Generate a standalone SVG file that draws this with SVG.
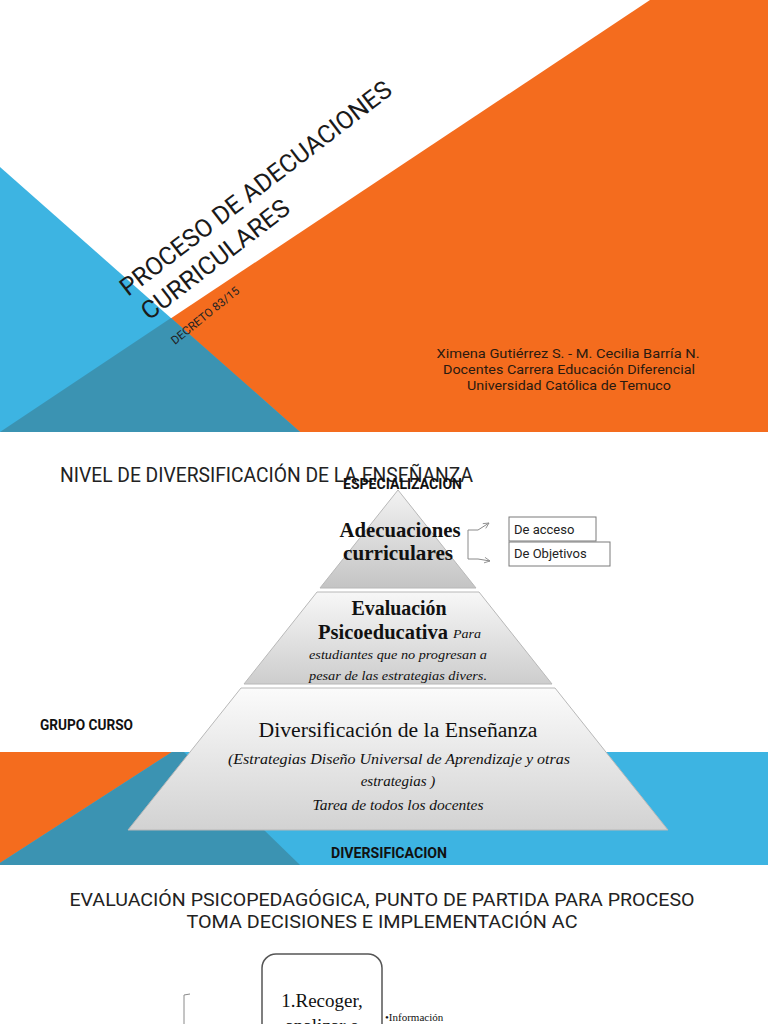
<svg xmlns="http://www.w3.org/2000/svg" width="768" height="1024" viewBox="0 0 768 1024">
<defs>
<style>
.sans{font-family:Roboto,"Liberation Sans",sans-serif}
.serif{font-family:"Liberation Serif","DejaVu Serif",serif}
.title{font-family:Roboto,"Liberation Sans",sans-serif;font-weight:400;fill:#1a1a1a}
.lbl{font-family:Roboto,"Liberation Sans",sans-serif;font-weight:700;font-size:14px;fill:#111}
.pt{font-family:"Liberation Serif","DejaVu Serif",serif;fill:#111}
.it{font-style:italic}
.box{fill:#fff;stroke:#7a7a7a;stroke-width:1}
.conn{fill:none;stroke:#8a8a8a;stroke-width:1}
.tier{stroke:#b8b8b8;stroke-width:1}
</style>
<linearGradient id="g1" x1="0" y1="0" x2="0" y2="1">
<stop offset="0" stop-color="#f2f2f2"/><stop offset="1" stop-color="#c4c4c4"/>
</linearGradient>
<linearGradient id="g2" x1="0" y1="0" x2="0" y2="1">
<stop offset="0" stop-color="#f7f7f7"/><stop offset="1" stop-color="#cdcdcd"/>
</linearGradient>
<linearGradient id="g3" x1="0" y1="0" x2="0" y2="1">
<stop offset="0" stop-color="#fbfbfb"/><stop offset="1" stop-color="#d2d2d2"/>
</linearGradient>
<marker id="arr" viewBox="0 0 10 10" refX="9" refY="5" markerWidth="7" markerHeight="7" orient="auto" markerUnits="userSpaceOnUse">
<path d="M1,1 L9,5 L1,9" fill="none" stroke="#8a8a8a" stroke-width="1.2"/>
</marker>
</defs>
<rect width="768" height="1024" fill="#fff"/>

<!-- Slide 1 -->
<g id="slide1-bg">
<polygon points="650,0 768,0 768,432 0,432" fill="#f46c1e"/>
<polygon points="0,167 300,432 0,432" fill="#3db4e2"/>
<polygon points="0,432 171,318 300,432" fill="#3b93b2"/>
</g>
<g id="slide1-title">
<text class="title" font-size="25" textLength="335" lengthAdjust="spacingAndGlyphs" transform="translate(128,297) rotate(-37.5)">PROCESO DE ADECUACIONES</text>
<text class="title" font-size="25" textLength="180" lengthAdjust="spacingAndGlyphs" transform="translate(149,321) rotate(-37.5)">CURRICULARES</text>
<text class="sans" font-size="11.5" fill="#222" textLength="84" lengthAdjust="spacingAndGlyphs" transform="translate(175,345) rotate(-39)">DECRETO 83/15</text>
</g>
<g id="slide1-authors" class="sans" font-size="13.5" fill="#2a1a10" text-anchor="middle">
<text x="568" y="358" textLength="263" lengthAdjust="spacingAndGlyphs">Ximena Gutiérrez S.  - M. Cecilia Barría  N.</text>
<text x="569" y="374" textLength="252" lengthAdjust="spacingAndGlyphs">Docentes Carrera Educación Diferencial</text>
<text x="569" y="390" textLength="204" lengthAdjust="spacingAndGlyphs">Universidad Católica de Temuco</text>
</g>

<!-- Slide 2 -->
<g id="slide2-bg">
<rect x="0" y="752" width="768" height="113" fill="#3db4e2"/>
<polygon points="0,752 172,752 0,863" fill="#f46c1e"/>
<polygon points="172,752 184,752 300,865 0,865 0,863" fill="#3b93b2"/>
</g>
<text id="slide2-title" class="sans" x="60" y="482" font-size="21" fill="#222" textLength="413" lengthAdjust="spacingAndGlyphs">NIVEL DE DIVERSIFICACIÓN DE LA ENSEÑANZA</text>
<g id="tier-adecuaciones">
<polygon class="tier" points="398,490 476,588 320,588" fill="url(#g1)"/>
<text class="pt" font-weight="700" font-size="20" x="400" y="537" text-anchor="middle" textLength="121" lengthAdjust="spacingAndGlyphs">Adecuaciones</text>
<text class="pt" font-weight="700" font-size="20" x="398" y="560" text-anchor="middle" textLength="110" lengthAdjust="spacingAndGlyphs">curriculares</text>
</g>
<g id="tier-evaluacion">
<polygon class="tier" points="317,592 479,592 552,684 244,684" fill="url(#g2)"/>
<text class="pt" font-weight="700" font-size="20" x="399" y="615" text-anchor="middle" textLength="95" lengthAdjust="spacingAndGlyphs">Evaluación</text>
<text class="pt" font-weight="700" font-size="20" x="318" y="639" textLength="130" lengthAdjust="spacingAndGlyphs">Psicoeducativa</text>
<text class="pt it" font-size="13" x="453" y="638" textLength="28" lengthAdjust="spacingAndGlyphs">Para</text>
<text class="pt it" font-size="13.5" x="398" y="659" text-anchor="middle" textLength="178" lengthAdjust="spacingAndGlyphs">estudiantes que no progresan a</text>
<text class="pt it" font-size="13.5" x="398" y="680" text-anchor="middle" textLength="178" lengthAdjust="spacingAndGlyphs">pesar de las estrategias  divers.</text>
</g>
<g id="tier-diversificacion">
<polygon class="tier" points="241,688 555,688 668,830 128,830" fill="url(#g3)"/>
<text class="pt" font-size="20" x="398" y="737" text-anchor="middle" textLength="279" lengthAdjust="spacingAndGlyphs">Diversificación de la Enseñanza</text>
<text class="pt it" font-size="15" x="399" y="764" text-anchor="middle" textLength="342" lengthAdjust="spacingAndGlyphs">(Estrategias Diseño Universal de Aprendizaje y otras</text>
<text class="pt it" font-size="15" x="398" y="786" text-anchor="middle">estrategias )</text>
<text class="pt it" font-size="15" x="398" y="810" text-anchor="middle" textLength="171" lengthAdjust="spacingAndGlyphs">Tarea de todos los docentes</text>
</g>
<text id="lbl-especializacion" class="lbl" x="343" y="489" textLength="119" lengthAdjust="spacingAndGlyphs">ESPECIALIZACION</text>
<text id="lbl-grupo" class="lbl" font-size="13" x="40" y="730" textLength="93" lengthAdjust="spacingAndGlyphs">GRUPO CURSO</text>
<text id="lbl-diversificacion" class="lbl" x="331" y="858" textLength="116" lengthAdjust="spacingAndGlyphs">DIVERSIFICACION</text>
<g id="box-acceso">
<rect class="box" x="509" y="517" width="87" height="24"/>
<text class="sans" font-size="13" fill="#222" x="514" y="534">De acceso</text>
</g>
<g id="box-objetivos">
<rect class="box" x="509" y="542" width="101" height="24"/>
<text class="sans" font-size="13" fill="#222" x="514" y="558">De Objetivos</text>
</g>
<g id="connectors">
<path class="conn" d="M468,545 L468,530 L478,530 L489,523" marker-end="url(#arr)"/>
<path class="conn" d="M468,545 L468,559 L478,559 L490,561" marker-end="url(#arr)"/>
<path class="conn" d="M190,994 L184,995 L184,1024"/>
</g>

<!-- Slide 3 -->
<g id="slide3-title" class="sans" font-size="19" fill="#222" text-anchor="middle">
<text x="382" y="906" textLength="625" lengthAdjust="spacingAndGlyphs">EVALUACIÓN PSICOPEDAGÓGICA,  PUNTO DE PARTIDA PARA PROCESO</text>
<text x="382" y="928" textLength="391" lengthAdjust="spacingAndGlyphs">TOMA  DECISIONES E IMPLEMENTACIÓN AC</text>
</g>
<g id="node-recoger">
<rect x="262" y="954" width="120" height="90" rx="14" fill="#fff" stroke="#555" stroke-width="1.5"/>
<text class="pt" font-size="19" x="322" y="1007" text-anchor="middle">1.Recoger,</text>
<text class="pt" font-size="19" x="322" y="1032" text-anchor="middle">analizar e</text>
</g>
<text id="bullet-info" class="pt" font-size="11" x="385" y="1021">•Información</text>
</svg>
